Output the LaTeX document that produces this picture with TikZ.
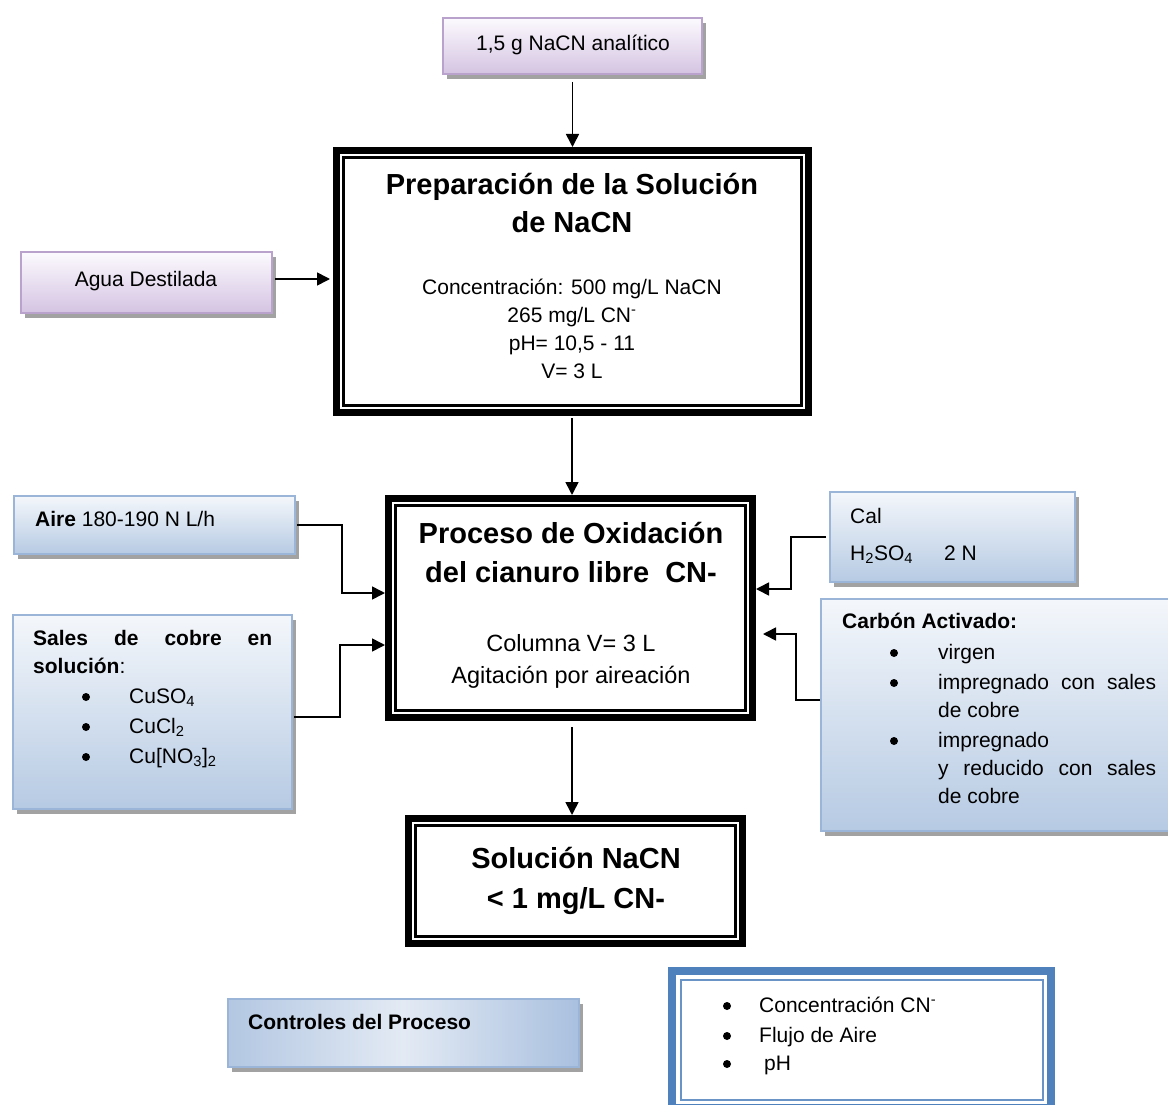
\documentclass[tikz,border=0pt]{standalone}
\usepackage{fontspec}
\setmainfont{Liberation Sans}
\usetikzlibrary{arrows.meta,shadows}
\definecolor{lavtop}{HTML}{FCFAFE}
\definecolor{lavbot}{HTML}{D4C3E2}
\definecolor{lavedge}{HTML}{B9A3CC}
\definecolor{bluetop}{HTML}{F4F7FB}
\definecolor{bluebot}{HTML}{B6CAE3}
\definecolor{blueedge}{HTML}{9AB5D8}
\definecolor{ctrlleft}{HTML}{B3C7E2}
\definecolor{ctrlmid}{HTML}{E3EAF4}
\definecolor{ctrlright}{HTML}{A9C0DF}
\definecolor{shad}{HTML}{A2A2A2}
\definecolor{ctrlblue}{HTML}{4F81BD}
\definecolor{ctrlinner}{HTML}{6A93C6}
\begin{document}
\begin{tikzpicture}[x=1pt,y=-1pt,
  shadowbox/.style={general shadow={shadow xshift=4pt,shadow yshift=-5pt,fill=shad}},
  lavbox/.style={shadowbox,draw=lavedge,line width=2pt,top color=lavtop,bottom color=lavbot,inner sep=0pt,outer sep=0pt},
  bluebox/.style={shadowbox,draw=blueedge,line width=2pt,top color=bluetop,bottom color=bluebot,inner sep=0pt,outer sep=0pt},
  heavybox/.style={draw=black,line width=7pt,fill=white,inner sep=0pt},
  innerline/.style={line width=2.5pt},
  conn/.style={line width=1.6pt,-{Triangle[length=13pt,width=13pt]}},
  bul/.style={circle,fill=black,inner sep=0pt,minimum size=8pt},
  txt/.style={font=\fontsize{21}{28}\selectfont,inner sep=0pt,anchor=base},
  txtw/.style={txt,anchor=base west},
  ttl/.style={font=\bfseries\fontsize{29}{38}\selectfont,inner sep=0pt,anchor=base},
  bigtxt/.style={font=\fontsize{23.5}{32}\selectfont,inner sep=0pt,anchor=base}
]
\useasboundingbox (0,0) rectangle (1168,1105);

% ---- boxes ----
\node[lavbox,minimum width=259pt,minimum height=56pt] (top) at (572.5,46) {};
\node[heavybox,minimum width=472pt,minimum height=262pt] (prep) at (572.5,281.5) {};
\draw[innerline] ([shift={(10.5pt,-10.5pt)}]prep.north west) rectangle ([shift={(-10.5pt,10.5pt)}]prep.south east);
\node[lavbox,minimum width=251pt,minimum height=61pt] (agua) at (146.5,282.5) {};

\node[heavybox,minimum width=364pt,minimum height=219pt] (proc) at (570.5,608) {};
\draw[innerline] ([shift={(10.5pt,-10.5pt)}]proc.north west) rectangle ([shift={(-10.5pt,10.5pt)}]proc.south east);

\node[bluebox,minimum width=281pt,minimum height=58pt] (aire) at (154.5,525) {};
\node[bluebox,minimum width=279pt,minimum height=194pt] (sales) at (152.5,712) {};
\node[bluebox,minimum width=245pt,minimum height=90pt] (cal) at (952.5,537) {};
\node[bluebox,minimum width=351pt,minimum height=232pt] (carbon) at (996.5,715) {};

\node[heavybox,minimum width=334pt,minimum height=125pt] (sol) at (575.5,881) {};
\draw[innerline] ([shift={(10.5pt,-10.5pt)}]sol.north west) rectangle ([shift={(-10.5pt,10.5pt)}]sol.south east);

\node[shadowbox,draw=blueedge,line width=2pt,left color=ctrlleft,right color=ctrlright,middle color=ctrlmid,inner sep=0pt,outer sep=0pt,minimum width=351pt,minimum height=68pt] (ctrl) at (403.5,1033) {};

\node[draw=ctrlblue,line width=8pt,fill=white,inner sep=0pt,minimum width=379pt,minimum height=137pt] (list) at (861.5,1039.5) {};
\draw[draw=ctrlinner,line width=2.5pt] ([shift={(13pt,-13pt)}]list.north west) rectangle ([shift={(-12pt,12pt)}]list.south east);

% ---- texts ----
\node[txt] (ttop) at (573,51) {1,5 g NaCN analítico};

\node[ttl] (tprep1) at (572,195) {Preparación de la Solución};
\node[ttl] (tprep2) at (572,233) {de NaCN};
\node[txt] (tprep3) at (572,294) {Concentración: 500 mg/L NaCN};
\node[txt] (tprep4) at (572,322) {265 mg/L CN\textsuperscript{-}};
\node[txt] (tprep5) at (572,350) {pH= 10,5 - 11};
\node[txt] (tprep6) at (572,378) {V= 3 L};

\node[txt] (tagua) at (146,286) {Agua Destilada};

\node[ttl] (tproc1) at (571,543) {Proceso de Oxidación};
\node[ttl] (tproc2) at (571,582) {del cianuro libre\ \ CN-};
\node[bigtxt] (tproc3) at (571,651) {Columna V= 3 L};
\node[bigtxt] (tproc4) at (571,683) {Agitación por aireación};

\node[txtw] (taire) at (35,526) {\textbf{Aire} 180-190 N L/h};

\node[txtw] (tsal1) at (33,645) {\makebox[239pt][s]{\bfseries Sales de cobre en}};
\node[txtw] (tsal2) at (33,673) {\textbf{solución}:};
\node[bul] (bs1) at (86,697) {};
\node[txtw] (tsal3) at (129,703) {CuSO\textsubscript{4}};
\node[bul] (bs2) at (86,727) {};
\node[txtw] (tsal4) at (129,733) {CuCl\textsubscript{2}};
\node[bul] (bs3) at (86,757) {};
\node[txtw] (tsal5) at (129,763) {Cu[NO\textsubscript{3}]\textsubscript{2}};

\node[txtw] (tcal1) at (850,523) {Cal};
\node[txtw] (tcal2) at (850,560) {H\textsubscript{2}SO\textsubscript{4}};
\node[txtw] (tcal3) at (944,560) {2 N};

\node[txtw] (tcar0) at (842,628) {\textbf{Carbón Activado:}};
\node[bul] (bc1) at (894,653) {};
\node[txtw] (tcar1) at (938,659) {virgen};
\node[bul] (bc2) at (894,683) {};
\node[txtw] (tcar2) at (938,689) {\makebox[218pt][s]{impregnado con sales}};
\node[txtw] (tcar3) at (938,717) {de cobre};
\node[bul] (bc3) at (894,741) {};
\node[txtw] (tcar4) at (938,747) {impregnado};
\node[txtw] (tcar5) at (938,775) {\makebox[218pt][s]{y reducido con sales}};
\node[txtw] (tcar6) at (938,803) {de cobre};

\node[ttl] (tsol1) at (576,868) {Solución NaCN};
\node[ttl] (tsol2) at (576,908) {< 1 mg/L CN-};

\node[txtw,font=\bfseries\fontsize{21}{28}\selectfont] (tctrl) at (248,1029) {Controles del Proceso};

\node[bul] (bl1) at (727,1006) {};
\node[txtw] (tl1) at (759,1012) {Concentración CN\textsuperscript{-}};
\node[bul] (bl2) at (727,1036) {};
\node[txtw] (tl2) at (759,1042) {Flujo de Aire};
\node[bul] (bl3) at (727,1064) {};
\node[txtw] (tl3) at (764,1070) {pH};

% ---- connectors ----
\coordinate (aguaout) at (275,279);
\coordinate (pp) at (572,418);
\coordinate (ps) at (572,727);

\draw[conn] ([yshift=-8pt]top.south) -- (top.south |- prep.north);
\draw[conn,shorten >=3pt] (aguaout) -- (aguaout -| prep.west);
\draw[conn] (pp) -- (pp |- proc.north);
\draw[conn] ([xshift=2pt]aire.east) -- ++(45,0) |- ([yshift=15pt]proc.west);
\draw[conn] ([shift={(2pt,-5pt)}]sales.east) -- ++(46,0) |- ([yshift=-37pt]proc.west);
\draw[conn] ([xshift=-4pt]cal.west) -- ++(-35,0) |- ([yshift=19pt]proc.east);
\draw[conn] ([shift={(-1pt,15pt)}]carbon.west) -- ++(-24,0) |- ([shift={(7pt,-26pt)}]proc.east);
\draw[conn] (ps) -- (ps |- sol.north);
\end{tikzpicture}
\end{document}
